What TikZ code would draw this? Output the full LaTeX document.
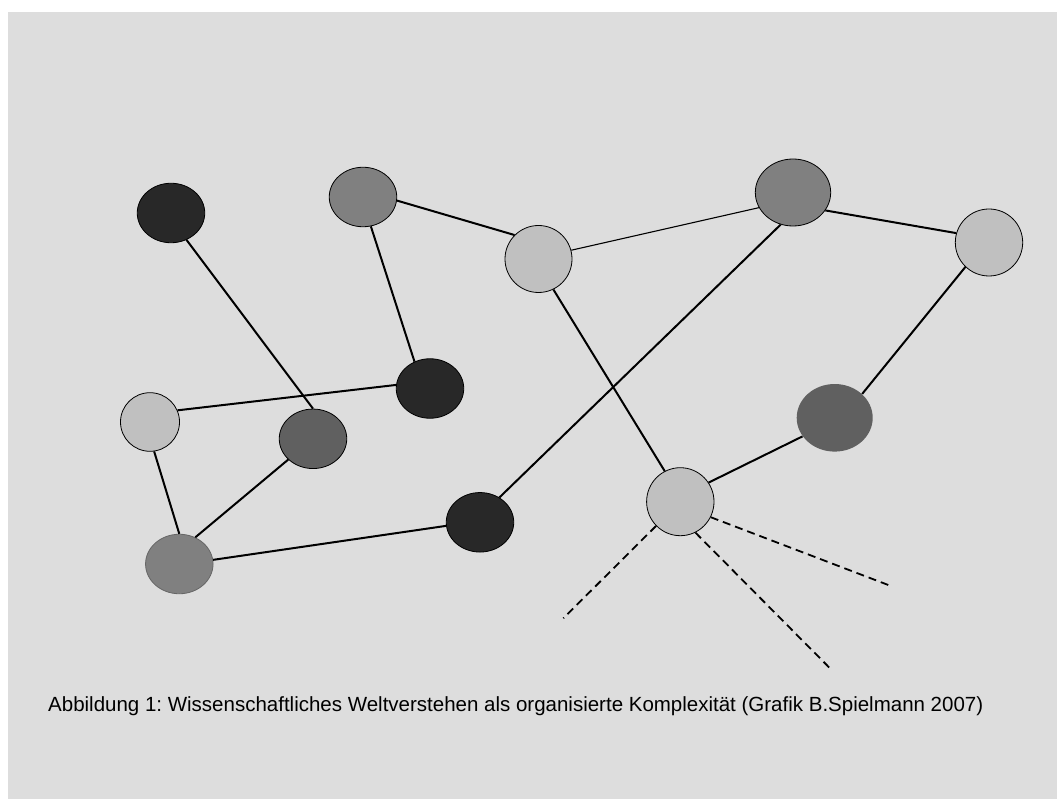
\documentclass[tikz,border=0pt]{standalone}
\usepackage{fontspec}
\setmainfont{Liberation Sans}
\usepackage{tikz}
\usetikzlibrary{shapes.geometric}
\definecolor{bgcol}{HTML}{DDDDDD}
\definecolor{darkcol}{HTML}{282828}
\definecolor{greycol}{HTML}{808080}
\definecolor{midcol}{HTML}{606060}
\definecolor{lightcol}{HTML}{C0C0C0}
\frenchspacing

\begin{document}
\begin{tikzpicture}[
    x=1pt, y=-1pt,
    blob/.style={ellipse, draw, line width=0.8pt, inner sep=0pt, minimum width=67.5pt, minimum height=59.5pt},
    darkblob/.style={blob, fill=darkcol},
    greyblob/.style={blob, fill=greycol},
    midblob/.style={blob, fill=midcol},
    lightblob/.style={blob, fill=lightcol},
    link/.style={line width=2pt},
    thinlink/.style={line width=1.1pt},
    loose/.style={line width=1.8pt, dash pattern=on 8pt off 5pt}
]
\useasboundingbox (0,0) rectangle (1057,799);
\fill[bgcol] (8,12) rectangle (1057,799);

\node[darkblob] (n1) at (171,213) {};
\node[greyblob] (n2) at (363,197) {};
\node[darkblob] (n3) at (430,388.5) {};
\node[lightblob, minimum width=59pt, minimum height=58.6pt] (n4) at (150,422) {};
\node[midblob] (n5) at (313,438.8) {};
\node[lightblob, minimum width=67pt, minimum height=67pt] (n6) at (538.5,259) {};
\node[greyblob, minimum width=75.4pt, minimum height=67pt] (n7) at (793,192.5) {};
\node[lightblob, minimum width=67.4pt, minimum height=67pt] (n8) at (989,242.5) {};
\node[midblob, draw=none, minimum width=76pt, minimum height=67.6pt] (n9) at (834.7,417.8) {};
\node[greyblob, draw=greycol!80!black] (n10) at (179.3,564) {};
\node[darkblob] (n11) at (480,522.3) {};
\node[lightblob, minimum width=67.4pt, minimum height=68pt] (n12) at (680.3,501.7) {};

\coordinate (o1) at (563.3,618.3);
\coordinate (o2) at (830,668.3);
\coordinate (o3) at (888.3,585);

\draw[link] (n1.-60) -- (n5.90);
\draw[link] (n2.-6) -- (n6.135);
\draw[link] (n2.-75) -- (n3.120);
\draw[link] (n4.23) -- (n3.174);
\draw[link] (n4.-82) -- (n10.90);
\draw[link] (n10.59) -- (n5.220);
\draw[link] (n10.7) -- (n11.186);
\draw[link] (n11.52) -- (n7.249);
\draw[thinlink] (n6.15) -- (n7.204);
\draw[link] (n6.-64) -- (n12.117);
\draw[link] (n7.-29) -- (n8.164);
\draw[link] (n8.226) -- (n9.41);
\draw[link] (n9.210) -- (n12.34);
\draw[loose] (n12.225) -- (o1);
\draw[loose] (n12.-64) -- (o2);
\draw[loose] (n12.-27) -- (o3);

\node[anchor=base west, inner sep=0pt, font=\fontsize{20.5}{24}\selectfont] (caption) at (48,711.7)
    {Abbildung 1: Wissenschaftliches Weltverstehen als organisierte Komplexität (Grafik B.Spielmann 2007)};
\end{tikzpicture}
\end{document}
